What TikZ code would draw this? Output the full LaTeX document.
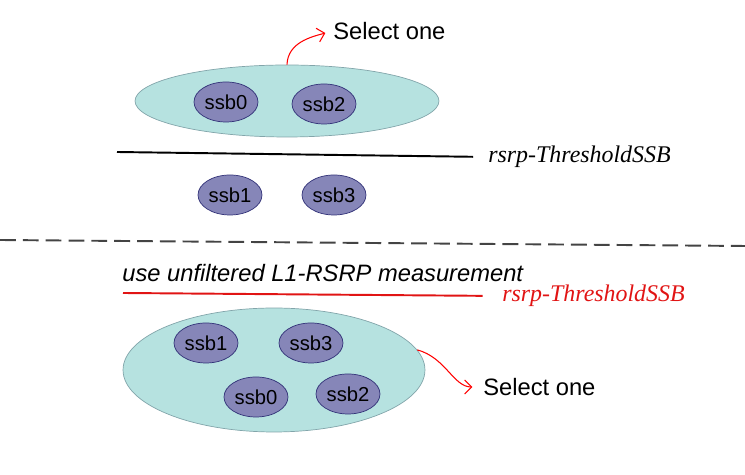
\documentclass[tikz,border=0pt]{standalone}
\usepackage{fontspec}
\setmainfont{Liberation Sans}
\newfontfamily\timesfont{Liberation Serif}
\usepackage{tikz}
\usetikzlibrary{shapes.geometric}
\usetikzlibrary{arrows.meta}
\definecolor{grpfill}{RGB}{182,226,224}
\definecolor{grpline}{RGB}{130,165,170}
\definecolor{ssbfill}{RGB}{134,134,184}
\definecolor{ssbline}{RGB}{50,50,120}
\definecolor{dashgray}{RGB}{68,68,68}
\definecolor{thrred}{RGB}{225,20,20}

\begin{document}
\begin{tikzpicture}[x=0.02cm, y=-0.02cm]

  \tikzset{group/.style = {shape=ellipse,draw=grpline,fill=grpfill,inner sep=0pt}}
  \tikzset{ssb/.style = {shape=ellipse,draw=ssbline,fill=ssbfill,inner sep=0pt,
      minimum width=1.28cm,minimum height=0.8cm,font=\fontsize{11.5}{13}\selectfont}}
  \tikzset{tag/.style = {anchor=west,inner sep=0pt,font=\fontsize{13.5}{16}\selectfont}}
  \tikzset{thr/.style = {anchor=west,inner sep=0pt,font=\fontsize{13.6}{16}\timesfont\itshape}}
  \tikzset{pick/.style = {->,> = {Straight Barb[length=4pt,width=8pt]},draw=red,semithick}}
  \useasboundingbox (0,0) rectangle (745,475);
  % top part
  \node[group,minimum width=6.08cm,minimum height=1.44cm] (grp1) at (287,101) {};
  \node[ssb] (t0) at (226,102) {ssb0};
  \node[ssb] (t2) at (324,104) {ssb2};
  \node[tag] (sel1) at (333,31) {Select one};
  \node[thr] (thr1) at (488,157) {rsrp-ThresholdSSB};
  \coordinate (l1) at (117,152);
  \node[ssb] (t1) at (230,195) {ssb1};
  \node[ssb] (t3) at (334,195) {ssb3};
  % separator
  \coordinate (d1) at (0,240);
  \coordinate (d2) at (745,246);
  \draw[dashgray,line width=1.1pt,dash pattern=on 9pt off 4pt] (d1) -- (d2);
  % bottom part
  \node[tag,font=\fontsize{13.5}{16}\selectfont\itshape] (use) at (122,273) {use unfiltered L1-RSRP measurement};
  \node[thr,text=thrred] (thr2) at (502,296) {rsrp-ThresholdSSB};
  \coordinate (l2) at (123,293);
  \node[group,minimum width=6.04cm,minimum height=2.48cm] (grp2) at (274,370) {};
  \node[ssb] (b1) at (206,343) {ssb1};
  \node[ssb] (b3) at (311,343) {ssb3};
  \node[ssb] (b0) at (256,397) {ssb0};
  \node[ssb] (b2) at (348,394) {ssb2};
  \node[tag] (sel2) at (483,387) {Select one};
  % lines and arrows
  \draw[black,line width=1.1pt,shorten >=8.5pt] (l1) -- (thr1.west);
  \draw[thrred,line width=1.1pt,shorten >=11pt] (l2) -- (thr2.west);
  \draw[pick,shorten >=4.5pt] (grp1.north) to[out=88,in=195] (sel1.west);
  \draw[pick,shorten >=6pt] (grp2.8) to[out=-15,in=180] (sel2.west);
\end{tikzpicture}
\end{document}
